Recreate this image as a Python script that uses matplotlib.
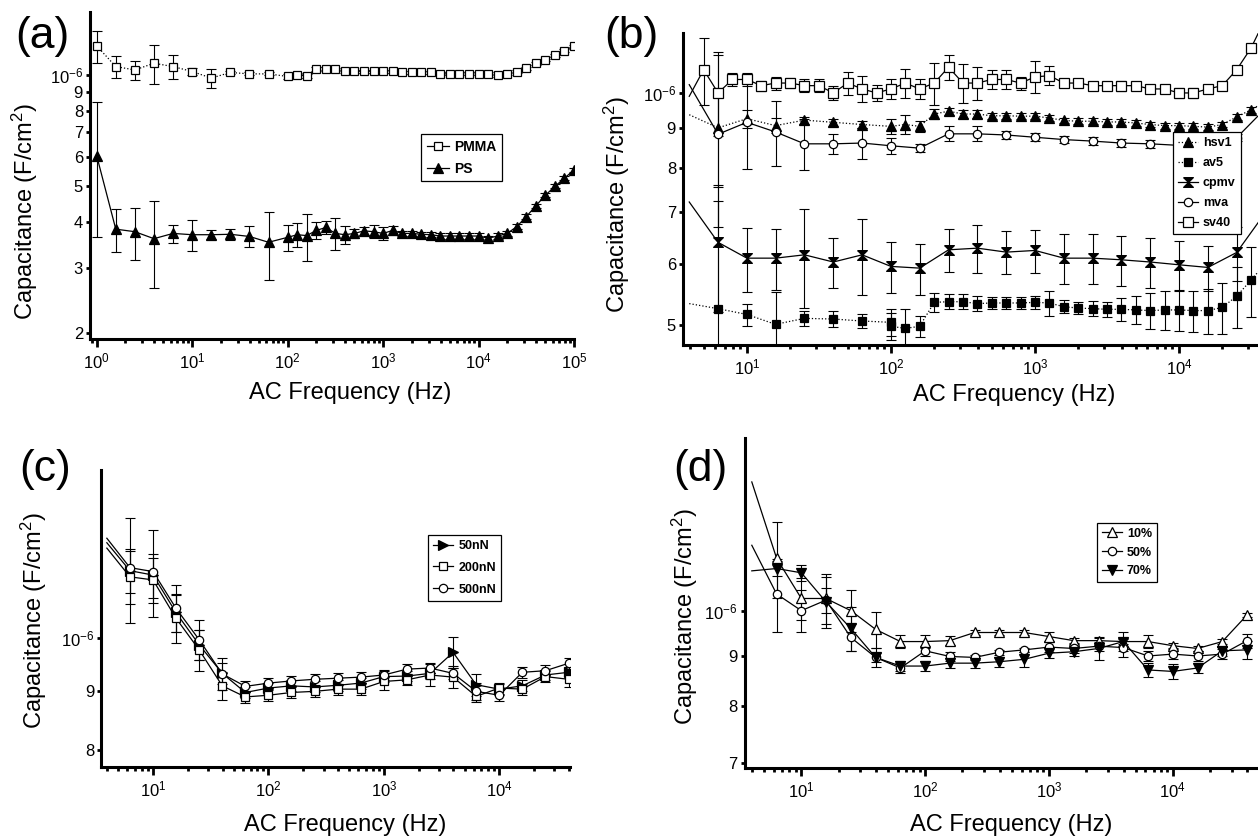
import numpy as np
import matplotlib
matplotlib.use("Agg")
import matplotlib.pyplot as plt
from matplotlib.lines import Line2D
from matplotlib.ticker import (LogLocator, FixedLocator, FixedFormatter,
                               NullLocator, NullFormatter, LogFormatterMathtext)

plt.rcParams['font.family'] = ['Liberation Sans', 'DejaVu Sans']
plt.rcParams['mathtext.fontset'] = 'custom'
plt.rcParams['mathtext.rm'] = 'Liberation Sans'
plt.rcParams['mathtext.it'] = 'Liberation Sans:italic'
plt.rcParams['mathtext.bf'] = 'Liberation Sans:bold'

# capacitance in units of 1e-6 F/cm2, frequency in Hz
# --- (a) PMMA / PS
freq_a = [1, 1.585, 2.512, 3.981, 6.31, 10, 15.85, 25.12, 39.81, 63.1,
          100, 125.9, 158.5, 199.5, 251.2, 316.2, 398.1, 501.2, 631, 794.3,
          1000, 1259, 1585, 1995, 2512, 3162, 3981, 5012, 6310, 7943,
          10000, 12589, 15849, 19953, 25119, 31623, 39811, 50119, 63096, 79433, 100000]
pmma = [1.198, 1.053, 1.031, 1.075, 1.053, 1.021, 0.980, 1.015, 1.006, 1.006,
        0.990, 0.998, 0.994, 1.038, 1.038, 1.036, 1.023, 1.023, 1.023, 1.023,
        1.023, 1.023, 1.015, 1.015, 1.015, 1.015, 1.006, 1.006, 1.006, 1.006,
        1.006, 1.006, 0.998, 1.006, 1.021, 1.042, 1.075, 1.097, 1.131, 1.162, 1.198]
pmma_err = [0.12, 0.07, 0.06, 0.13, 0.08, 0.02, 0.06, 0.012, 0.01, 0.01,
            0.015, 0.015, 0.012, 0.012, 0.01, 0.01, 0.01, 0.01, 0.01, 0.01,
            0.01, 0.01, 0.01, 0.01, 0.01, 0.01, 0.01, 0.01, 0.01, 0.01,
            0.01, 0.01, 0.01, 0.01, 0.01, 0.01, 0.01, 0.01, 0.01, 0.01, 0.01]
ps = [0.604, 0.382, 0.376, 0.360, 0.372, 0.369, 0.369, 0.370, 0.365, 0.352,
      0.363, 0.369, 0.367, 0.379, 0.386, 0.372, 0.369, 0.372, 0.378, 0.376,
      0.372, 0.379, 0.372, 0.372, 0.370, 0.369, 0.366, 0.366, 0.366, 0.366,
      0.366, 0.361, 0.366, 0.372, 0.388, 0.413, 0.442, 0.472, 0.499, 0.525, 0.553]
ps_err = [0.24, 0.05, 0.06, 0.095, 0.021, 0.036, 0.01, 0.012, 0.024, 0.073,
          0.03, 0.028, 0.053, 0.02, 0.015, 0.037, 0.02, 0.01, 0.01, 0.015,
          0.015, 0.01, 0.006, 0.006, 0.006, 0.006, 0.006, 0.006, 0.006, 0.006,
          0.006, 0.006, 0.006, 0.006, 0.006, 0.006, 0.006, 0.006, 0.006, 0.006, 0.006]

# --- (b) viruses
freq_sv40 = [3.98, 5.01, 6.31, 7.94, 10, 12.6, 15.8, 20.0, 25.1, 31.6, 39.8, 50.1, 63.1, 79.4,
             100, 126, 158, 200, 251, 316, 398, 501, 631, 794,
             1000, 1259, 1585, 1995, 2512, 3162, 3981, 5012, 6310, 7943,
             10000, 12589, 15849, 19953, 25119, 31623, 39811]
sv40 = [0.99, 1.072, 1.000, 1.041, 1.041, 1.022, 1.030, 1.030, 1.022, 1.022,
        1.000, 1.030, 1.012, 1.000, 1.012, 1.030, 1.012, 1.030, 1.080, 1.030,
        1.030, 1.041, 1.041, 1.030, 1.049, 1.053, 1.030, 1.030, 1.022, 1.022,
        1.022, 1.022, 1.012, 1.012, 1.000, 1.000, 1.012, 1.022, 1.072, 1.144, 1.25]
sv40_err = [0, 0.107, 0.12, 0.02, 0.02, 0.015, 0.02, 0.015, 0.02, 0.02,
            0.02, 0.035, 0.04, 0.025, 0.03, 0.045, 0.03, 0.065, 0.04, 0.06,
            0.05, 0.03, 0.03, 0.02, 0.05, 0.03, 0.01, 0.01, 0.01, 0.01,
            0.015, 0.01, 0.01, 0.01, 0.015, 0.015, 0.01, 0.01, 0.01, 0.01, 0.01]
freq_hsv1 = [3.98, 6.31, 10, 15.8, 25.1, 39.8, 63.1,
             100, 126, 158, 200, 251, 316, 398, 501, 631, 794,
             1000, 1259, 1585, 1995, 2512, 3162, 3981, 5012, 6310, 7943,
             10000, 12589, 15849, 19953, 25119, 31623, 39811]
hsv1 = [0.937, 0.901, 0.926, 0.907, 0.922, 0.916, 0.910,
        0.905, 0.910, 0.905, 0.939, 0.947, 0.939, 0.939, 0.934, 0.934, 0.933,
        0.933, 0.928, 0.921, 0.919, 0.919, 0.917, 0.917, 0.914, 0.910, 0.907,
        0.907, 0.905, 0.903, 0.910, 0.931, 0.951, 0.975]
hsv1_err = [0, 0.23, 0.025, 0.02, 0.01, 0.01, 0.01,
            0.02, 0.025, 0.015, 0.015, 0.01, 0.01, 0.01, 0.008, 0.008, 0.008,
            0.008, 0.008, 0.008, 0.008, 0.008, 0.008, 0.008, 0.008, 0.008, 0.008,
            0.008, 0.008, 0.008, 0.008, 0.008, 0.008, 0.008]
freq_av5 = [3.98, 6.31, 10, 15.8, 25.1, 39.8, 63.1, 100, 100,
            126, 158, 200, 251, 316, 398, 501, 631, 794,
            1000, 1259, 1585, 1995, 2512, 3162, 3981, 5012, 6310, 7943,
            10000, 12589, 15849, 19953, 25119, 31623, 39811]
av5 = [0.533, 0.525, 0.516, 0.501, 0.510, 0.509, 0.506, 0.504, 0.498,
       0.495, 0.498, 0.535, 0.536, 0.536, 0.533, 0.534, 0.534, 0.534,
       0.535, 0.534, 0.528, 0.526, 0.525, 0.524, 0.524, 0.523, 0.522, 0.523,
       0.523, 0.522, 0.522, 0.527, 0.545, 0.572, 0.601]
av5_err = [0, 0.2, 0.017, 0.05, 0.012, 0.012, 0.01, 0.02, 0.02,
           0.03, 0.015, 0.015, 0.012, 0.012, 0.012, 0.01, 0.01, 0.01,
           0.01, 0.02, 0.01, 0.01, 0.012, 0.012, 0.018, 0.022, 0.028, 0.03,
           0.032, 0.032, 0.035, 0.04, 0.05, 0.06, 0.05]
freq_b2 = [3.98, 6.31, 10, 15.8, 25.1, 39.8, 63.1, 100, 158, 251, 398, 631,
           1000, 1585, 2512, 3981, 6310, 10000, 15849, 25119, 39811]
mva = [1.025, 0.884, 0.916, 0.890, 0.859, 0.859, 0.861, 0.854, 0.848, 0.885, 0.885, 0.882,
       0.876, 0.870, 0.866, 0.861, 0.859, 0.855, 0.853, 0.875, 0.955]
mva_err = [0, 0.13, 0.12, 0.085, 0.065, 0.025, 0.04, 0.02, 0.01, 0.02, 0.02, 0.01,
           0.01, 0.01, 0.01, 0.01, 0.01, 0.01, 0.01, 0.01, 0.01]
cpmv = [0.722, 0.640, 0.6105, 0.6105, 0.6166, 0.6035, 0.6166, 0.5956, 0.5926, 0.6259, 0.629, 0.6216,
        0.6247, 0.6105, 0.6105, 0.6075, 0.6035, 0.5985, 0.5938, 0.621, 0.70]
cpmv_err = [0, 0.12, 0.058, 0.055, 0.09, 0.045, 0.07, 0.045, 0.045, 0.04, 0.045, 0.04,
            0.04, 0.045, 0.045, 0.045, 0.045, 0.045, 0.04, 0.05, 0.05]

# --- (c) load force, (d) humidity
freq_cd = [3.98, 6.31, 10, 15.8, 25.1, 39.8, 63.1, 100, 158, 251, 398, 631,
           1000, 1585, 2512, 3981, 6310, 10000, 15849, 25119, 39811]
n50 = [1.211, 1.145, 1.135, 1.053, 0.987, 0.932, 0.897, 0.905, 0.909, 0.907, 0.910, 0.914,
       0.926, 0.927, 0.932, 0.972, 0.911, 0.903, 0.909, 0.929, 0.934]
n50_err = [0, 0.05, 0.05, 0.04, 0.03, 0.02, 0.01, 0.01, 0.01, 0.01, 0.01, 0.01,
           0.01, 0.01, 0.01, 0.03, 0.02, 0.01, 0.01, 0.01, 0.01]
n200 = [1.198, 1.131, 1.124, 1.041, 0.977, 0.909, 0.889, 0.892, 0.897, 0.899, 0.903, 0.903,
        0.917, 0.920, 0.929, 0.925, 0.890, 0.905, 0.903, 0.926, 0.921]
n200_err = [0, 0.06, 0.05, 0.05, 0.04, 0.025, 0.01, 0.01, 0.01, 0.01, 0.01, 0.01,
            0.015, 0.01, 0.02, 0.02, 0.01, 0.01, 0.01, 0.01, 0.015]
n500 = [1.222, 1.152, 1.143, 1.062, 0.997, 0.931, 0.908, 0.914, 0.918, 0.921, 0.923, 0.925,
        0.929, 0.940, 0.942, 0.932, 0.899, 0.892, 0.934, 0.937, 0.951]
n500_err = [0, 0.12, 0.1, 0.05, 0.04, 0.03, 0.01, 0.01, 0.01, 0.01, 0.01, 0.01,
            0.01, 0.01, 0.01, 0.01, 0.015, 0.01, 0.01, 0.01, 0.01]
rh10 = [1.353, 1.131, 1.029, 1.029, 1.000, 0.957, 0.930, 0.930, 0.932, 0.950, 0.950, 0.950,
        0.941, 0.932, 0.932, 0.930, 0.930, 0.921, 0.915, 0.930, 0.990]
rh10_err = [0, 0.1, 0.05, 0.06, 0.05, 0.04, 0.015, 0.015, 0.01, 0.005, 0.005, 0.005,
            0.01, 0.005, 0.005, 0.005, 0.015, 0.005, 0.005, 0.005, 0.005]
rh50 = [1.166, 1.040, 1.000, 1.025, 0.939, 0.896, 0.874, 0.910, 0.898, 0.896, 0.907, 0.912,
        0.918, 0.915, 0.920, 0.917, 0.899, 0.903, 0.899, 0.903, 0.932]
rh50_err = [0, 0.09, 0.05, 0.03, 0.03, 0.02, 0.01, 0.01, 0.01, 0.005, 0.005, 0.005,
            0.01, 0.01, 0.01, 0.02, 0.01, 0.01, 0.01, 0.01, 0.015]
rh70 = [1.098, 1.104, 1.093, 1.021, 0.959, 0.896, 0.878, 0.878, 0.884, 0.884, 0.887, 0.892,
        0.905, 0.908, 0.915, 0.930, 0.870, 0.867, 0.874, 0.910, 0.912]
rh70_err = [0, 0.02, 0.02, 0.06, 0.05, 0.01, 0.01, 0.01, 0.01, 0.01, 0.01, 0.015,
            0.01, 0.01, 0.025, 0.02, 0.015, 0.015, 0.01, 0.01, 0.02]

yt_a = [0.2, 0.3, 0.4, 0.5, 0.6, 0.7, 0.8, 0.9, 1.0]
yt_b = [0.5, 0.6, 0.7, 0.8, 0.9, 1.0]
yt_c = [0.8, 0.9, 1.0]
yt_d = [0.7, 0.8, 0.9, 1.0]
E6 = r'$\mathdefault{10^{-6}}$'
ytl_a = ['2', '3', '4', '5', '6', '7', '8', '9', E6]
ytl_b = ['5', '6', '7', '8', '9', E6]
ytl_c = ['8', '9', E6]
ytl_d = ['7', '8', '9', E6]

HOUR = [(-1, 1), (1, 1), (-1, -1), (1, -1), (-1, 1)]   # hourglass marker


def series(ax, f, v, e, ls, mk, mfc, ms, skip0=True):
    ax.plot(f, v, ls=ls, color='k', lw=0.9, zorder=2)
    s = 1 if skip0 else 0
    ax.errorbar(f[s:], v[s:], yerr=e[s:], fmt='none', ecolor='k', elinewidth=0.8,
                capsize=3.5, capthick=0.8, zorder=3)
    ax.plot(f[s:], v[s:], ls='none', marker=mk, mfc=mfc, mec='k', mew=0.9, ms=ms, zorder=4)
    return Line2D([], [], ls=ls, color='k', lw=0.9, marker=mk, mfc=mfc, mec='k', mew=0.9, ms=ms)


def style(ax, xlim, ylim, yt, ytl, xl, yl):
    ax.set_xscale('log'); ax.set_yscale('log')
    ax.set_xlim(*xlim); ax.set_ylim(*ylim)
    for s in ('top', 'right'):
        ax.spines[s].set_visible(False)
    for s in ('left', 'bottom'):
        ax.spines[s].set_linewidth(2.2)
    ax.xaxis.set_major_locator(LogLocator(base=10))
    ax.xaxis.set_minor_locator(LogLocator(base=10, subs=np.arange(2, 10)))
    ax.xaxis.set_major_formatter(LogFormatterMathtext())
    ax.xaxis.set_minor_formatter(NullFormatter())
    ax.yaxis.set_major_locator(FixedLocator(yt))
    ax.yaxis.set_major_formatter(FixedFormatter(ytl))
    ax.yaxis.set_minor_locator(NullLocator())
    ax.tick_params(axis='x', which='major', direction='out', length=6, width=2, labelsize=12, pad=3)
    ax.tick_params(axis='x', which='minor', direction='out', length=3, width=2)
    ax.tick_params(axis='y', which='major', direction='out', length=3, width=2, labelsize=12, pad=2)
    ax.set_xlabel("AC Frequency (Hz)", fontsize=17)
    ax.set_ylabel("Capacitance (F/cm$^2$)", fontsize=17)
    ax.xaxis.set_label_coords(*xl); ax.xaxis.label.set_va('center')
    ax.yaxis.set_label_coords(*yl); ax.yaxis.label.set_va('center')


def legend(ax, h, lab, anchor, size, ls):
    lg = ax.legend(h, lab, loc='upper left', bbox_to_anchor=anchor, borderaxespad=0,
                   fancybox=False, edgecolor='k', framealpha=1, handlelength=1.6,
                   handletextpad=0.4, borderpad=0.4, labelspacing=ls,
                   prop={'weight': 'bold', 'size': size})
    lg.get_frame().set_linewidth(0.9)


fig = plt.figure(figsize=(12.58, 8.38), dpi=100)
ax_a = fig.add_axes([0.0715, 0.5955, 0.3848, 0.3902])
ax_b = fig.add_axes([0.5429, 0.5883, 0.4571, 0.3723])
ax_c = fig.add_axes([0.0806, 0.0851, 0.3725, 0.3540])
ax_d = fig.add_axes([0.5920, 0.0835, 0.4080, 0.3938])

# (a)
h1 = series(ax_a, freq_a, pmma, pmma_err, ':', 's', 'white', 6, skip0=False)
h2 = series(ax_a, freq_a, ps, ps_err, '-', '^', 'k', 6.5, skip0=False)
h1.set_linestyle('-')
style(ax_a, (0.85, 1e5), (0.1926, 1.48), yt_a, ytl_a, (0.537, -0.165), (-0.134, 0.391))
legend(ax_a, [h1, h2], ['PMMA', 'PS'], (0.684, 0.627), 10, 0.6)

# (b)
hb = [series(ax_b, freq_hsv1, hsv1, hsv1_err, ':', '^', 'k', 6.5),
      series(ax_b, freq_av5, av5, av5_err, ':', 's', 'k', 5.5),
      series(ax_b, freq_b2, cpmv, cpmv_err, '-', HOUR, 'k', 7),
      series(ax_b, freq_b2, mva, mva_err, '-', 'o', 'white', 6),
      series(ax_b, freq_sv40, sv40, sv40_err, '-', 's', 'white', 6.5)]
style(ax_b, (3.6, 35300), (0.471, 1.196), yt_b, ytl_b, (0.576, -0.16), (-0.115, 0.449))
legend(ax_b, hb, ['hsv1', 'av5', 'cpmv', 'mva', 'sv40'], (0.852, 0.683), 9, 0.65)

# (c)
hc = [series(ax_c, freq_cd, n50, n50_err, '-', '>', 'k', 6.5),
      series(ax_c, freq_cd, n200, n200_err, '-', 's', 'white', 6),
      series(ax_c, freq_cd, n500, n500_err, '-', 'o', 'white', 6)]
style(ax_c, (3.57, 41000), (0.773, 1.401), yt_c, ytl_c, (0.521, -0.197), (-0.143, 0.491))
legend(ax_c, hc, ['50nN', '200nN', '500nN'], (0.698, 0.781), 9, 0.78)

# (d)
hd = [series(ax_d, freq_cd, rh10, rh10_err, '-', '^', 'white', 6.5),
      series(ax_d, freq_cd, rh50, rh50_err, '-', 'o', 'white', 6),
      series(ax_d, freq_cd, rh70, rh70_err, '-', 'v', 'k', 6.5)]
style(ax_d, (3.49, 48750), (0.691, 1.50), yt_d, ytl_d, (0.519, -0.173), (-0.117, 0.46))
legend(ax_d, hd, ['10%', '50%', '70%'], (0.686, 0.743), 9, 0.54)

for lab, x, y in [('(a)', 15, 16), ('(b)', 604, 16), ('(c)', 19, 449), ('(d)', 673, 449)]:
    fig.text(x / 1258, 1 - y / 838, lab, fontsize=32, ha='left', va='top')

fig.savefig("out.png", dpi=100, facecolor='white')
